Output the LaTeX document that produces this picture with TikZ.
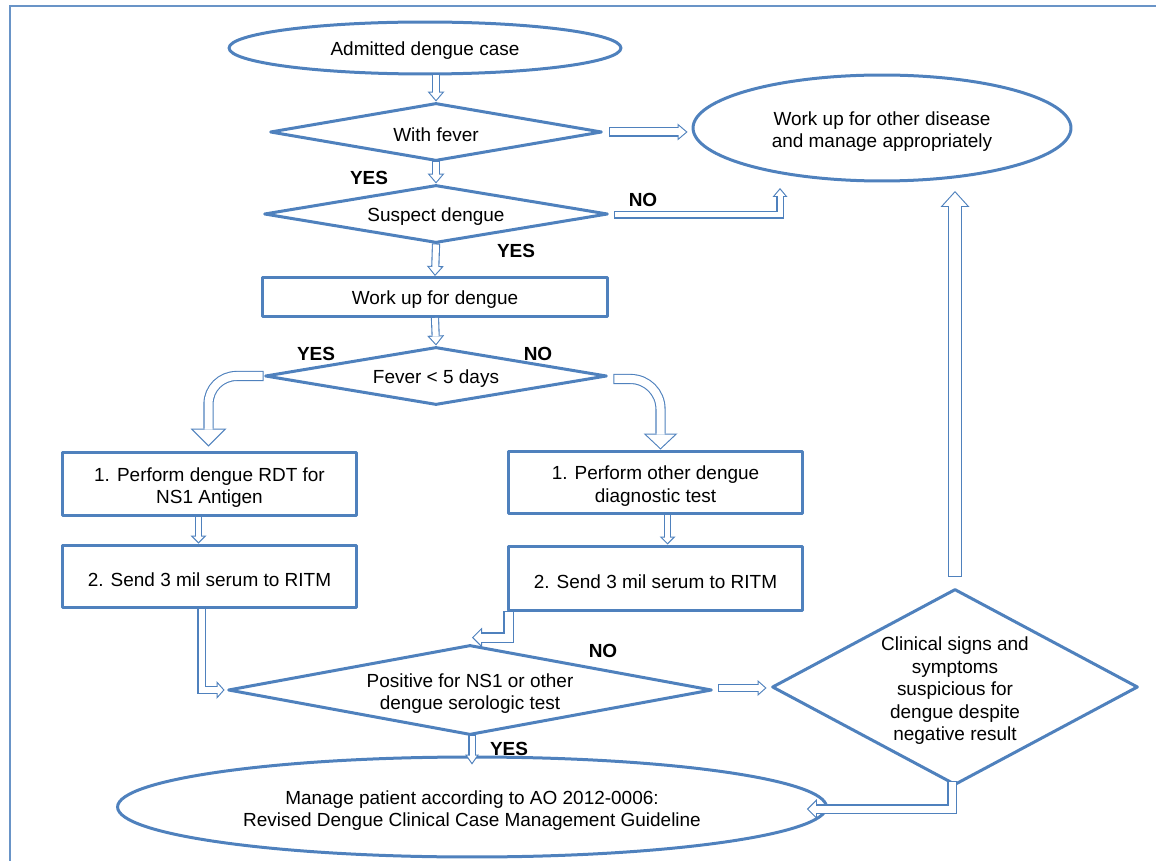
\documentclass[tikz,border=0pt]{standalone}
\usepackage{fontspec}
\setmainfont{Liberation Sans}
\usetikzlibrary{arrows.meta,calc,shapes.geometric}

\definecolor{flowblue}{RGB}{79,129,189}
\newcommand{\flowfont}{\fontsize{10.8}{12.8}\selectfont}
\newcommand{\toplift}{\rule{0pt}{12pt}}

% hollow block arrow: shaft, head width, head length (px), then the path
\newcommand{\flowarrow}[4]{%
  \pgfmathsetmacro{\hang}{atan2(#2/2,#3)}%
  \pgfmathsetmacro{\lfac}{(#3-1.1-1.1/sin(\hang))/#3}%
  \pgfmathsetlengthmacro{\wout}{(#1+2.2)*0.02cm}%
  \pgfmathsetlengthmacro{\win}{#1*0.02cm}%
  \pgfmathsetlengthmacro{\lout}{#3*0.02cm}%
  \pgfmathsetlengthmacro{\hout}{#2*0.02cm}%
  \pgfmathsetlengthmacro{\lin}{\lfac*#3*0.02cm}%
  \pgfmathsetlengthmacro{\hin}{\lfac*#2*0.02cm}%
  \pgfmathsetlengthmacro{\dtip}{1.1/sin(\hang)*0.02cm}%
  \draw[draw=flowblue, line width=\wout, shorten <=-0.022cm,
        -{Triangle[length=\lout, width=\hout, line width=0pt]}] #4;
  \draw[draw=white, line width=\win, shorten >=\dtip,
        -{Triangle[length=\lin, width=\hin, line width=0pt]}] #4;
}

\tikzset{
  flow/.style={draw=flowblue, line width=0.06cm, line join=round, fill=white,
               inner sep=0pt, align=center, font=\flowfont,
               execute at begin node={\rule{0pt}{11pt}}},
  oval/.style={flow, ellipse},
  choice/.style={flow, diamond},
  stepbox/.style={flow, rectangle},
  answer/.style={font=\flowfont\bfseries},
}

\begin{document}
\begin{tikzpicture}[x=0.02cm, y=-0.02cm]
  \useasboundingbox (0,0) rectangle (1156,861);
  \draw[flowblue!85, line width=0.03cm] (10,6) rectangle (1180,885);

  %%%%% shapes %%%%%
  \node[oval, minimum width=7.84cm, minimum height=1.04cm] (admit) at (425,48) {Admitted dengue case};
  \node[oval, minimum width=7.56cm, minimum height=2.12cm] (otherDx) at (882,128)
       {\toplift Work up for other disease\\and manage appropriately};
  \node[choice, aspect=5.7, minimum width=6.64cm, minimum height=1.16cm] (fever) at (436,132) {With fever};
  \node[choice, aspect=5.9, minimum width=6.88cm, minimum height=1.16cm] (suspect) at (436,214) {Suspect dengue};
  \node[stepbox, minimum width=6.9cm, minimum height=0.78cm] (workup) at (435,297) {Work up for dengue};
  \node[choice, aspect=5.9, minimum width=6.84cm, minimum height=1.16cm] (days) at (436,376) {Fever < 5 days};

  \node[stepbox, minimum width=5.9cm, minimum height=1.28cm] (rdt) at (209.5,484)
       {\toplift 1. Perform dengue RDT for\\NS1 Antigen};
  \node[stepbox, minimum width=5.9cm, minimum height=1.26cm] (altTest) at (655.5,482.5)
       {\toplift 1. Perform other dengue\\diagnostic test};
  \node[stepbox, minimum width=5.9cm, minimum height=1.26cm] (sendL) at (209.5,576.5) {2. Send 3 mil serum to RITM};
  \node[stepbox, minimum width=5.9cm, minimum height=1.3cm] (sendR) at (655.5,578.5) {2. Send 3 mil serum to RITM};

  \node[choice, aspect=5.4, minimum width=9.68cm, minimum height=1.8cm] (positive) at (470,690)
       {\toplift Positive for NS1 or other\\dengue serologic test};
  \node[choice, aspect=1.87, minimum width=7.32cm, minimum height=3.92cm] (clinical) at (955,687)
       {\toplift Clinical signs and\\symptoms\\suspicious for\\dengue despite\\negative result};
  \node[oval, minimum width=14.18cm, minimum height=2cm] (manage) at (472,807)
       {\toplift Manage patient according to AO 2012-0006:\\Revised Dengue Clinical Case Management Guideline};

  \coordinate (noTip) at (780,188);
  \coordinate (upTip) at (955,191);

  %%%%% arrows %%%%%
  \flowarrow{6}{17}{10}{(admit.south -| fever.north) -- (fever.north)}
  \flowarrow{7}{17}{10}{($(fever.east)+(7,0)$) -- ($(fever.east -| otherDx.west)+(-4,0)$)}
  \flowarrow{6}{17}{10}{(fever.south) -- (suspect.north)}
  \flowarrow{5}{15}{9}{($(suspect.east)+(6,1)$) -| (noTip)}
  \flowarrow{6}{17}{10}{(suspect.south) -- (workup.north)}
  \flowarrow{6}{17}{10}{(workup.south) -- (days.north)}

  \flowarrow{8}{36}{18}{($(days.west)+(-1,0)$) [rounded corners=0.56cm] -| ($(rdt.north)+(-1,-4)$)}
  \flowarrow{8}{34}{16}{($(days.east)+(6,3)$) [rounded corners=0.6cm] -| ($(altTest.north)+(5,0)$)}

  \flowarrow{5}{16}{8}{($(rdt.south)+(-11,0)$) -- ($(sendL.north)+(-11,0)$)}
  \flowarrow{5}{16}{8}{($(altTest.south)+(12,0)$) -- ($(sendR.north)+(12,0)$)}

  \flowarrow{6}{18}{8}{($(sendL.south)+(-8,0)$) |- ($(positive.west)+(-2,0)$)}
  \flowarrow{8}{20}{10}{($(sendR.south west)+(2,0)$) |- ($(positive.north)+(2,-6)$)}

  \flowarrow{6}{16}{9}{($(positive.east)+(6,-2)$) -- ($(positive.east -| clinical.west)+(-4,-2)$)}
  \flowarrow{5}{14}{10}{($(positive.south)+(2,0)$) -- ($(manage.north)+(0,9)$)}
  \flowarrow{7}{20}{10}{($(clinical.south)+(-3,-4)$) |- ($(manage.east)+(-21,2)$)}
  \flowarrow{12}{29}{16}{($(clinical.north)+(0,-12)$) -- (upTip)}

  %%%%% answers %%%%%
  \node[answer] (yesFever) at (369,178) {YES};
  \node[answer] (noSuspect) at (643,200) {NO};
  \node[answer] (yesSuspect) at (516,251) {YES};
  \node[answer] (yesDays) at (316,354) {YES};
  \node[answer] (noDays) at (538,354) {NO};
  \node[answer] (noPositive) at (603,651) {NO};
  \node[answer] (yesPositive) at (509,749) {YES};
\end{tikzpicture}
\end{document}
